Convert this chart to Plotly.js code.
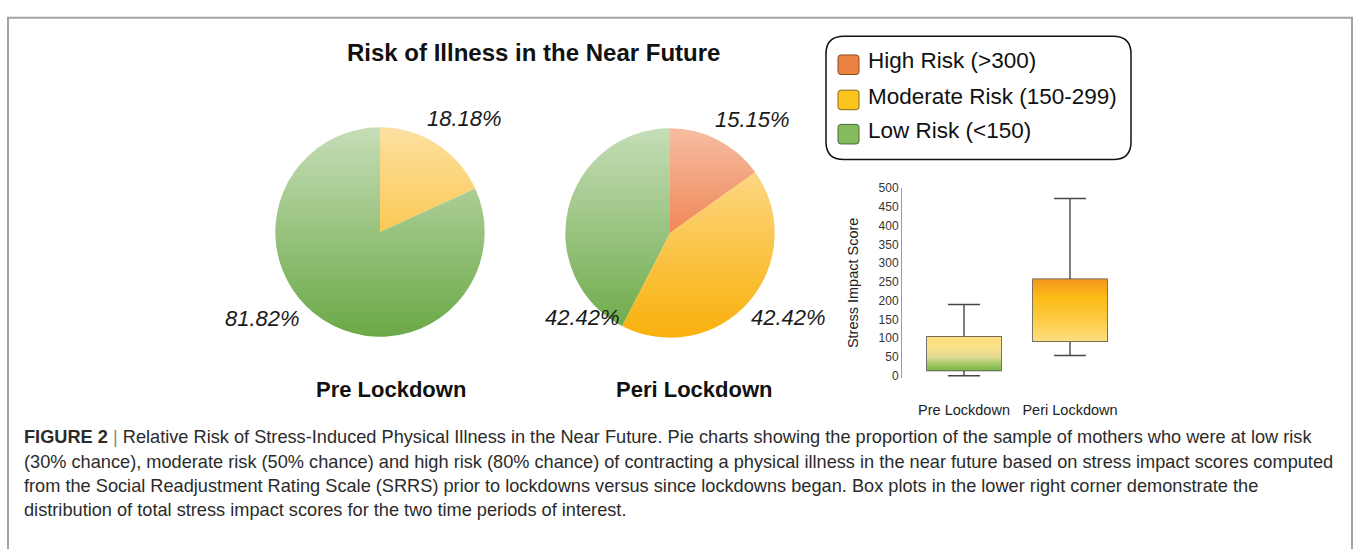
<!DOCTYPE html>
<html>
<head>
<meta charset="utf-8">
<script src="https://cdn.plot.ly/plotly-3.0.1.min.js"></script>
<style>html,body{margin:0;padding:0;background:#fff;}#chart{width:1356px;height:554px;}</style>
</head>
<body>
<div id="chart"></div>
<script>
// ---------- data ----------
const riskLabels = ["High Risk (>300)", "Moderate Risk (150-299)", "Low Risk (<150)"];
const preLabels = ["Moderate Risk (150-299)", "Low Risk (<150)"];
const preCounts = [6, 27];
const periLabels = ["High Risk (>300)", "Moderate Risk (150-299)", "Low Risk (<150)"];
const periCounts = [5, 14, 14];
const pieTitles = ["Pre Lockdown", "Peri Lockdown"];
const boxCategories = ["Pre Lockdown", "Peri Lockdown"];
const boxLowerFence = [0, 54];
const boxQ1 = [14, 92];
const boxMedian = [43, 177];
const boxQ3 = [104, 257];
const boxUpperFence = [190, 472];
const yTicks = [0, 50, 100, 150, 200, 250, 300, 350, 400, 450, 500];
const captionLines = [
  "<b>FIGURE 2</b> <span style='color:#888'>|</span> Relative Risk of Stress-Induced Physical Illness in the Near Future. Pie charts showing the proportion of the sample of mothers who were at low risk",
  "(30% chance), moderate risk (50% chance) and high risk (80% chance) of contracting a physical illness in the near future based on stress impact scores computed",
  "from the Social Readjustment Rating Scale (SRRS) prior to lockdowns versus since lockdowns began. Box plots in the lower right corner demonstrate the",
  "distribution of total stress impact scores for the two time periods of interest."
];

// ---------- styling ----------
const W = 1356, H = 554;
const px = x => x / W;
const py = y => 1 - y / H;
const FONT = "Liberation Sans, Arial, sans-serif";
const pieColors = {
  "High Risk (>300)": "#e8530c",
  "Moderate Risk (150-299)": "#f9b00a",
  "Low Risk (<150)": "#6aa845"
};
const swatchColors = ["#ec8242", "#fcc41e", "#84bb5e"];
const swatchLines = ["#8a4a20", "#8a6a10", "#4a6a30"];

function rrect(x0, y0, x1, y1, r) {
  return `M${px(x0 + r)},${py(y0)} L${px(x1 - r)},${py(y0)} Q${px(x1)},${py(y0)} ${px(x1)},${py(y0 + r)} ` +
    `L${px(x1)},${py(y1 - r)} Q${px(x1)},${py(y1)} ${px(x1 - r)},${py(y1)} ` +
    `L${px(x0 + r)},${py(y1)} Q${px(x0)},${py(y1)} ${px(x0)},${py(y1 - r)} ` +
    `L${px(x0)},${py(y0 + r)} Q${px(x0)},${py(y0)} ${px(x0 + r)},${py(y0)} Z`;
}

const pieGeom = [{cx: 380, cy: 230, r: 107}, {cx: 670, cy: 231, r: 107}];

const traces = [];
[[preLabels, preCounts], [periLabels, periCounts]].forEach(([labs, vals], i) => {
  const g = pieGeom[i];
  traces.push({
    type: "pie",
    labels: labs,
    values: vals,
    sort: false,
    direction: "clockwise",
    rotation: 0,
    textinfo: "none",
    hoverinfo: "label+percent",
    showlegend: false,
    marker: {colors: labs.map(l => pieColors[l]), line: {width: 0}},
    domain: {x: [px(g.cx - g.r), px(g.cx + g.r)], y: [py(g.cy + g.r), py(g.cy - g.r)]}
  });
});

// box plot gradient fills
const boxW = 0.7;
const boxScales = [
  [[0, "#6cae3e"], [0.28, "#9bc45f"], [0.5, "#dcd992"], [0.72, "#f7df8c"], [1, "#fde07e"]],
  [[0, "#fde28a"], [0.45, "#fcc83a"], [0.75, "#fcbc14"], [1, "#f39a1f"]]
];
boxCategories.forEach((c, i) => {
  traces.push({
    type: "scatter",
    x: [i - boxW / 2, i + boxW / 2, i + boxW / 2, i - boxW / 2, i - boxW / 2],
    y: [boxQ1[i], boxQ1[i], boxQ3[i], boxQ3[i], boxQ1[i]],
    mode: "lines",
    line: {width: 0},
    fill: "toself",
    fillgradient: {type: "vertical", colorscale: boxScales[i], start: boxQ1[i], stop: boxQ3[i]},
    hoverinfo: "skip",
    showlegend: false
  });
});
boxCategories.forEach((c, i) => {
  traces.push({
    type: "box",
    name: c,
    x: [i],
    q1: [boxQ1[i]],
    median: [boxMedian[i]],
    q3: [boxQ3[i]],
    lowerfence: [boxLowerFence[i]],
    upperfence: [boxUpperFence[i]],
    width: boxW,
    whiskerwidth: 0.43,
    boxpoints: false,
    fillcolor: "rgba(0,0,0,0)",
    line: {color: "#474747", width: 1.4},
    showlegend: false
  });
});

// annotations
const annotations = [];
annotations.push({
  text: "Risk of Illness in the Near Future", xref: "paper", yref: "paper",
  x: px(533), y: py(47), xanchor: "center", yanchor: "middle", showarrow: false,
  font: {family: FONT, size: 24, color: "#111", weight: "bold"}
});
const pieTitleX = [391, 694];
pieTitles.forEach((t, i) => annotations.push({
  text: t, xref: "paper", yref: "paper", x: px(pieTitleX[i]), y: py(391),
  xanchor: "center", yanchor: "middle", showarrow: false,
  font: {family: FONT, size: 22, color: "#111", weight: "bold"}
}));
// percentage labels computed from data
const pct = (vals, k) => (100 * vals[k] / vals.reduce((a, b) => a + b, 0)).toFixed(2) + "%";
const preLabelPos = [[464, 114], [262, 318]];
const periLabelPos = [[752, 115], [788, 317], [582, 317]];
preCounts.forEach((v, k) => annotations.push({
  text: pct(preCounts, k), xref: "paper", yref: "paper", x: px(preLabelPos[k][0]), y: py(preLabelPos[k][1]),
  xanchor: "center", yanchor: "middle", showarrow: false,
  font: {family: FONT, size: 22, color: "#1a1a1a", style: "italic"}
}));
periCounts.forEach((v, k) => annotations.push({
  text: pct(periCounts, k), xref: "paper", yref: "paper", x: px(periLabelPos[k][0]), y: py(periLabelPos[k][1]),
  xanchor: "center", yanchor: "middle", showarrow: false,
  font: {family: FONT, size: 22, color: "#1a1a1a", style: "italic"}
}));
// legend
const legRows = [59, 95, 130];
riskLabels.forEach((l, k) => annotations.push({
  text: l, xref: "paper", yref: "paper", x: px(866), y: py(legRows[k] - 4),
  xanchor: "left", yanchor: "middle", showarrow: false,
  font: {family: FONT, size: 22.5, color: "#111"}
}));
// caption
const capY = [440, 465, 490, 514];
captionLines.forEach((t, k) => annotations.push({
  text: t, xref: "paper", yref: "paper", x: px(22), y: py(capY[k]),
  xanchor: "left", yanchor: "middle", showarrow: false, align: "left",
  font: {family: FONT, size: 18.2, color: "#2b2b2b"}
}));

// shapes
const shapes = [];
shapes.push({type: "path", xref: "paper", yref: "paper",
  path: `M${px(8)},${py(554)} L${px(8)},${py(11)} L${px(1352)},${py(11)} L${px(1352)},${py(554)}`,
  line: {color: "#a3a3a3", width: 2}});
shapes.push({type: "path", xref: "paper", yref: "paper", path: rrect(826, 30, 1131, 156, 18),
  line: {color: "#111", width: 1.5}, fillcolor: "rgba(0,0,0,0)"});
legRows.forEach((yc, k) => shapes.push({type: "path", xref: "paper", yref: "paper",
  path: rrect(838, yc - 10, 859, yc + 10, 3), line: {color: swatchLines[k], width: 1}, fillcolor: swatchColors[k]}));

// gradient overlays (white fade, light at top)
const gradSvg = "<svg xmlns='http://www.w3.org/2000/svg' width='100' height='100' viewBox='0 0 100 100' preserveAspectRatio='none'>" +
  "<defs><linearGradient id='g' x1='0' y1='0' x2='0' y2='1'>" +
  "<stop offset='0' stop-color='#ffffff' stop-opacity='0.62'/><stop offset='1' stop-color='#ffffff' stop-opacity='0'/>" +
  "</linearGradient></defs><rect width='100' height='100' fill='url(#g)'/></svg>";
const gradSrc = "data:image/svg+xml;charset=utf-8," + encodeURIComponent(gradSvg);
const images = pieGeom.map(g => ({
  source: gradSrc, xref: "paper", yref: "paper",
  x: px(g.cx - g.r - 2), y: py(g.cy - g.r - 2), sizex: (2 * g.r + 4) / W, sizey: (2 * g.r + 4) / H,
  xanchor: "left", yanchor: "top", sizing: "stretch", layer: "above"
}));

const layout = {
  width: W, height: H,
  margin: {l: 0, r: 0, t: 0, b: 0},
  paper_bgcolor: "#fff", plot_bgcolor: "rgba(0,0,0,0)",
  showlegend: false,
  font: {family: FONT, color: "#333"},
  xaxis: {
    domain: [px(902), px(1123)], range: [-0.585, 1.5],
    tickvals: [0, 1], ticktext: boxCategories,
    showgrid: false, zeroline: false, showline: false, ticks: "",
    tickfont: {family: FONT, size: 14.5, color: "#222"}, ticklabelstandoff: 22, fixedrange: true
  },
  yaxis: {
    domain: [py(378.9), py(185)], range: [-5, 500],
    tickvals: yTicks, showgrid: false, zeroline: false,
    showline: true, linecolor: "#9a9a9a", linewidth: 1, ticks: "",
    tickfont: {family: FONT, size: 12, color: "#333"},
    title: {text: "Stress Impact Score", font: {family: FONT, size: 14.5, color: "#222"}, standoff: 16},
    automargin: true, fixedrange: true
  },
  annotations: annotations,
  shapes: shapes,
  images: images
};

Plotly.newPlot("chart", traces, layout, {displayModeBar: false, staticPlot: true});
</script>
</body>
</html>
